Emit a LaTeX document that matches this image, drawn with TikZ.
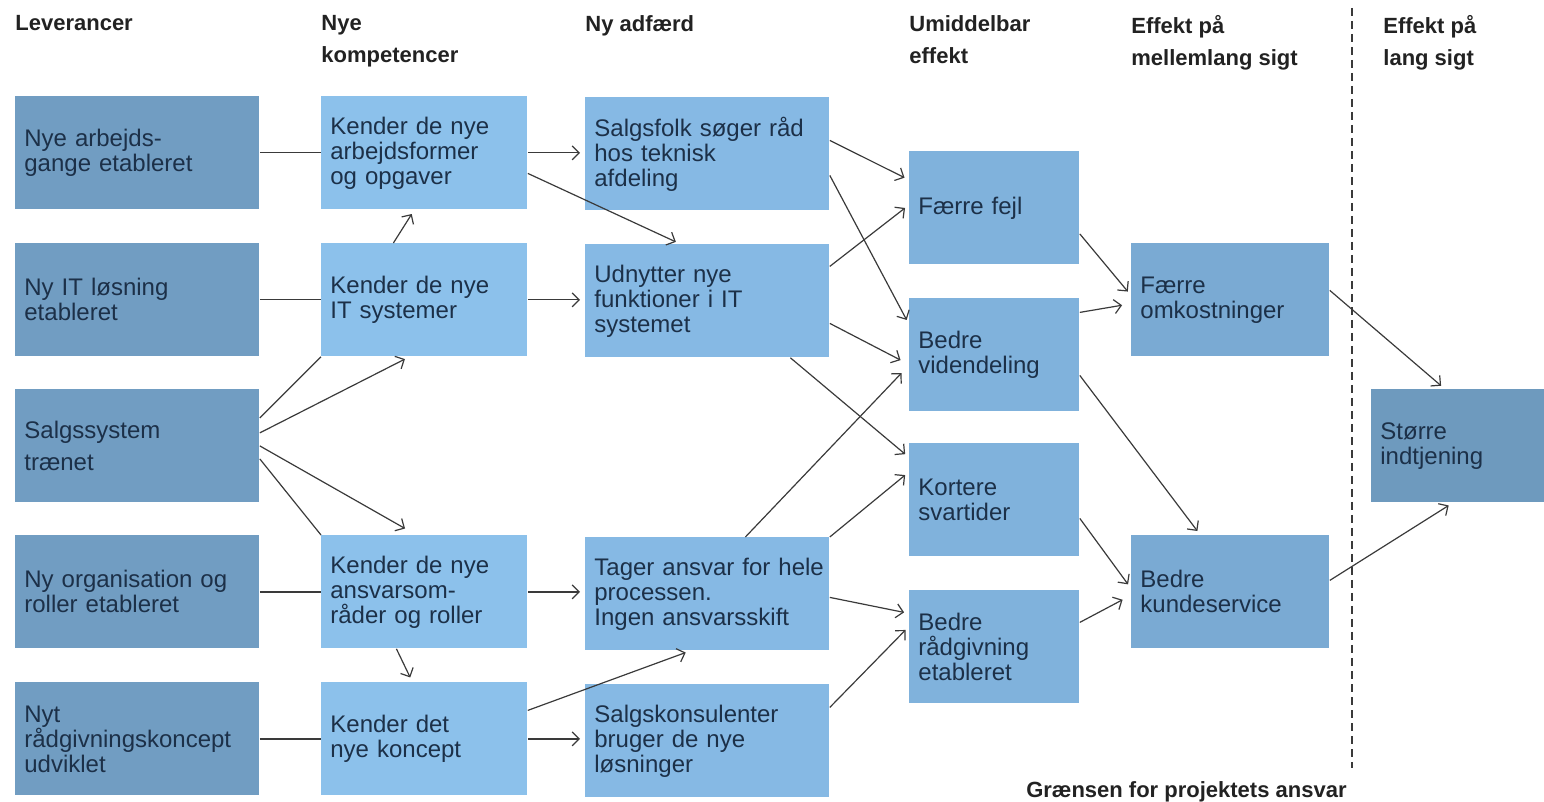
\documentclass[tikz,border=0pt]{standalone}
\usepackage{fontspec}
\setmainfont{Liberation Sans}
\usetikzlibrary{calc, arrows.meta}

\definecolor{levcol}{HTML}{719DC2}
\definecolor{kompcol}{HTML}{8CC1EB}
\definecolor{adfcol}{HTML}{86B9E4}
\definecolor{umidcol}{HTML}{80B2DC}
\definecolor{mellcol}{HTML}{7AAAD3}
\definecolor{langcol}{HTML}{6E9ABE}
\definecolor{boxtext}{HTML}{1C3048}
\definecolor{headtext}{HTML}{222222}
\definecolor{linecol}{HTML}{3A3A3A}

\begin{document}
\begin{tikzpicture}[x=0.5pt, y=-0.5pt, >={Straight Barb[length=3.5pt,width=7pt]},
    box/.style={anchor=north west, minimum height=56.5pt, inner xsep=4.5pt, inner ysep=0pt, align=left, text=boxtext, font=\fontsize{12}{12.5}\selectfont},
    lev/.style={box, fill=levcol, text width=113pt},
    komp/.style={box, fill=kompcol, text width=94pt},
    adf/.style={box, fill=adfcol, text width=113pt},
    umid/.style={box, fill=umidcol, text width=76pt},
    mell/.style={box, fill=mellcol, text width=90pt},
    langsigt/.style={box, fill=langcol, text width=77.5pt},
    overskrift/.style={anchor=north west, inner sep=0pt, align=left, text=headtext, font=\fontsize{11}{16}\selectfont\bfseries},
    link/.style={color=linecol, line width=0.6pt},
    pil/.style={link, ->, shorten >=2.5pt}]
    \useasboundingbox (0,0) rectangle (1544,802);

    % overskrifter
    \node[overskrift] (h1) at (15,15) {Leverancer};
    \node[overskrift] (h2) at (321,15) {Nye\\kompetencer};
    \node[overskrift] (h3) at (585,15) {Ny adfærd};
    \node[overskrift] (h4) at (909,15) {Umiddelbar\\effekt};
    \node[overskrift] (h5) at (1131,15) {Effekt på\\mellemlang sigt};
    \node[overskrift] (h6) at (1383,15) {Effekt på\\lang sigt};

    % leverancer
    \node[lev] (lev1) at (15,96) {Nye arbejds-\\gange etableret};
    \node[lev] (lev2) at (15,243) {Ny IT løsning\\etableret};
    \node[lev] (lev3) at (15,389) {Salgssystem\\[3.5pt]trænet};
    \node[lev] (lev4) at (15,535) {Ny organisation og\\roller etableret};
    \node[lev] (lev5) at (15,682) {Nyt\\rådgivningskoncept\\udviklet};

    % nye kompetencer
    \node[komp] (komp1) at (321,96) {Kender de nye\\arbejdsformer\\og opgaver};
    \node[komp] (komp2) at (321,243) {Kender de nye\\IT systemer};
    \node[komp] (komp4) at (321,535) {Kender de nye\\ansvarsom-\\råder og roller};
    \node[komp] (komp5) at (321,682) {Kender det\\nye koncept};

    % ny adfaerd
    \node[adf] (adf1) at (585,97) {Salgsfolk søger råd\\hos teknisk\\afdeling};
    \node[adf] (adf2) at (585,244) {Udnytter nye\\funktioner i IT\\systemet};
    \node[adf] (adf4) at (585,537) {\mbox{Tager ansvar for hele}\\processen.\\Ingen ansvarsskift};
    \node[adf] (adf5) at (585,684) {Salgskonsulenter\\bruger de nye\\løsninger};

    % umiddelbar effekt
    \node[umid] (umid1) at (909,151) {Færre fejl};
    \node[umid] (umid2) at (909,298) {Bedre\\videndeling};
    \node[umid] (umid3) at (909,443) {Kortere\\svartider};
    \node[umid] (umid4) at (909,590) {Bedre\\rådgivning\\etableret};

    % mellemlang og lang sigt
    \node[mell] (mell1) at (1131,243) {Færre\\omkostninger};
    \node[mell] (mell2) at (1131,535) {Bedre\\kundeservice};
    \node[langsigt] (lang1) at (1371,389) {Større\\indtjening};

    % graensen
    \coordinate (gtop) at (1352,8);
    \coordinate (gbund) at (1352,768);
    \draw[color=linecol, line width=1pt, dash pattern=on 4pt off 2.5pt] (gtop) -- (gbund);
    \node[overskrift, anchor=base east] (graense) at (1347,797) {Grænsen for projektets ansvar};

    \path[link]
        (lev1.east) edge (lev1.east -| komp1.west)
        (lev2.east) edge (lev2.east -| komp2.west)
        (lev4.east) edge (lev4.east -| komp4.west)
        (lev5.east) edge (lev5.east -| komp5.west)
        ($(lev3.east)+(0,-28)$) edge (komp2.south west)
        ($(lev3.east)+(0,13)$) edge (komp4.north west);

    \path[pil]
        ($(lev3.east)+(0,-13)$) edge ($(komp2.south)+(-15,0)$)
        (lev3.east) edge ($(komp4.north)+(-15,-4)$)
        ($(komp2.north)+(-31,0)$) edge ($(komp1.south)+(-10,0)$)
        ($(komp4.south)+(-28,0)$) edge ($(komp5.north)+(-12,0)$)
        (komp1.east) edge (komp1.east -| adf1.west)
        (komp2.east) edge (komp2.east -| adf2.west)
        (komp4.east) edge (komp4.east -| adf4.west)
        (komp5.east) edge (komp5.east -| adf5.west)
        ($(komp1.east)+(0,20.5)$) edge ($(adf2.north)+(-27,0)$)
        ($(komp5.east)+(0,-28.5)$) edge ($(adf4.south)+(-17,0)$);

    \path[pil]
        ($(adf1.east)+(0,-13.5)$) edge ($(umid1.west)+(0,-28)$)
        ($(adf1.east)+(0,21.5)$) edge ($(umid2.west)+(0,-30.5)$)
        ($(adf2.east)+(0,-34.5)$) edge ($(umid1.west)+(0,-3)$)
        ($(adf2.east)+(0,22.5)$) edge ($(umid2.west)+(-4,7.5)$)
        ($(adf2.south)+(83,0)$) edge ($(umid3.west)+(0,-42.5)$)
        ($(adf4.north)+(38,0)$) edge ($(umid2.west)+(-4,14.5)$)
        (adf4.north east) edge ($(umid3.west)+(0,-28)$)
        ($(adf4.east)+(0,3.5)$) edge ($(umid4.west)+(0,-33.5)$)
        ($(adf5.east)+(0,-33.5)$) edge ($(umid4.west)+(0,-20.5)$);

    \path[pil]
        ($(umid1.east)+(0,26)$) edge ($(mell1.west)+(0,-4.5)$)
        ($(umid2.east)+(0,-42.5)$) edge ($(mell1.west)+(-4,4.5)$)
        ($(umid2.east)+(0,20.5)$) edge ($(mell2.north)+(-30,0)$)
        ($(umid3.east)+(0,18.5)$) edge ($(mell2.west)+(0,-3.5)$)
        ($(umid4.east)+(0,-24.5)$) edge ($(mell2.west)+(-4,5.5)$)
        ($(mell1.east)+(0,-9.5)$) edge ($(lang1.north)+(-13,0)$)
        ($(mell2.east)+(0,-11.5)$) edge ($(lang1.south)+(-5,0)$);
\end{tikzpicture}
\end{document}
